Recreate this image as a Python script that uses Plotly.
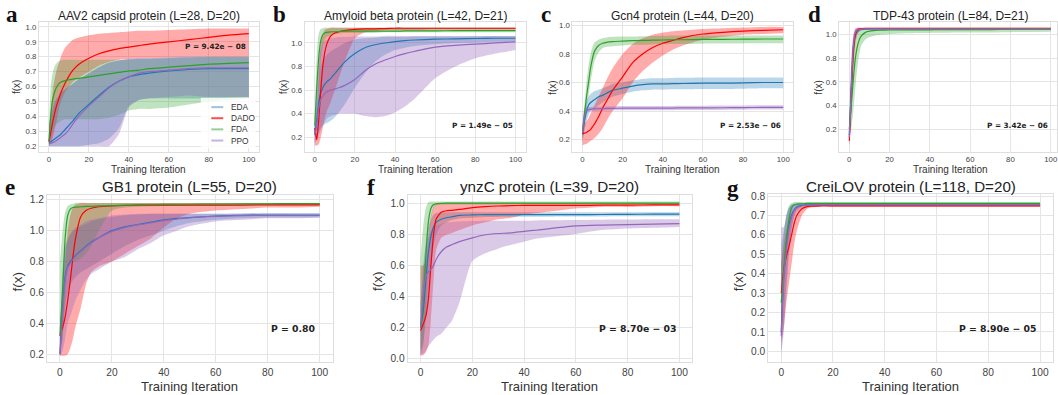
import plotly.graph_objects as go

W, H = 1058, 395

# Training iterations at which curves were read
X = [0, 1, 2, 3, 4, 5, 6, 8, 10, 12, 15, 20, 25, 30, 35, 40, 45, 50, 60, 70, 80, 90, 100]

# ---------------- panel a : AAV2 ----------------
A_EDA_MEAN = [.22, .23, .24, .25, .26, .27, .28, .31, .34, .37, .42, .48, .54, .595, .635, .665, .68, .69, .705, .715, .72, .72, .72]
A_EDA_LO = [.2, .2, .2, .2, .2, .2, .2, .2, .2, .2, .2, .21, .22, .25, .32, .47, .51, .52, .52, .52, .52, .525, .53]
A_EDA_HI = [.35, .42, .46, .5, .52, .54, .56, .58, .6, .62, .65, .69, .73, .76, .775, .785, .79, .79, .795, .8, .8, .8, .8]
A_DADO_MEAN = [.23, .3, .37, .43, .48, .52, .56, .62, .67, .71, .75, .79, .82, .84, .855, .865, .875, .885, .90, .915, .93, .945, .955]
A_DADO_LO = [.2, .22, .26, .32, .38, .45, .5, .56, .6, .63, .66, .7, .74, .765, .78, .785, .79, .79, .795, .8, .8, .8, .8]
A_DADO_HI = [.3, .45, .58, .66, .72, .76, .8, .86, .89, .915, .93, .945, .955, .96, .965, .97, .975, .975, .98, .985, .99, .99, .99]
A_FDA_MEAN = [.23, .42, .52, .57, .6, .62, .63, .64, .645, .65, .655, .665, .675, .685, .695, .705, .71, .72, .73, .74, .75, .755, .76]
A_FDA_LO = [.2, .25, .3, .33, .35, .36, .37, .38, .38, .38, .38, .38, .38, .39, .41, .44, .45, .45, .46, .48, .5, .51, .52]
A_FDA_HI = [.35, .62, .7, .74, .76, .77, .775, .78, .78, .78, .78, .78, .78, .78, .78, .78, .785, .785, .79, .795, .8, .8, .8]
A_PPO_MEAN = [.22, .22, .225, .23, .24, .25, .26, .28, .31, .35, .40, .47, .53, .59, .635, .665, .69, .70, .71, .72, .725, .725, .725]
A_PPO_LO = [.2, .2, .2, .2, .2, .2, .2, .2, .2, .2, .2, .2, .2, .2, .28, .46, .51, .52, .53, .54, .53, .53, .53]
A_PPO_HI = [.25, .38, .45, .5, .52, .54, .56, .58, .6, .62, .65, .69, .73, .76, .775, .785, .79, .79, .795, .8, .8, .8, .8]

# ---------------- panel b : Amyloid beta ----------------
B_EDA_MEAN = [.22, .35, .5, .58, .62, .65, .67, .70, .74, .78, .84, .91, .96, .985, 1.0, 1.012, 1.02, 1.025, 1.032, 1.035, 1.038, 1.04, 1.04]
B_EDA_LO = [.15, .2, .25, .28, .3, .31, .32, .34, .37, .41, .48, .62, .74, .84, .9, .94, .96, .975, .99, 1.0, 1.005, 1.01, 1.01]
B_EDA_HI = [.3, .5, .7, .8, .85, .88, .9, .93, .95, .97, 1.0, 1.03, 1.04, 1.045, 1.05, 1.05, 1.05, 1.055, 1.055, 1.055, 1.058, 1.06, 1.06]
B_DADO_MEAN = [.28, .18, .35, .6, .8, .92, .99, 1.06, 1.085, 1.095, 1.105, 1.115, 1.12, 1.12, 1.122, 1.125, 1.125, 1.125, 1.125, 1.125, 1.125, 1.125, 1.125]
B_DADO_LO = [.13, .13, .14, .2, .28, .36, .42, .5, .6, .7, .85, 1.04, 1.09, 1.1, 1.11, 1.11, 1.11, 1.11, 1.115, 1.115, 1.115, 1.115, 1.115]
B_DADO_HI = [.3, .3, .75, 1.0, 1.08, 1.11, 1.12, 1.13, 1.13, 1.13, 1.13, 1.13, 1.13, 1.13, 1.13, 1.13, 1.13, 1.13, 1.13, 1.13, 1.13, 1.13, 1.13]
B_FDA_MEAN = [.3, .62, .88, 1.02, 1.07, 1.085, 1.09, 1.095, 1.095, 1.097, 1.1, 1.1, 1.1, 1.1, 1.1, 1.1, 1.102, 1.102, 1.103, 1.104, 1.105, 1.105, 1.105]
B_FDA_LO = [.25, .35, .6, .85, .97, 1.03, 1.05, 1.07, 1.075, 1.08, 1.085, 1.085, 1.085, 1.085, 1.09, 1.09, 1.09, 1.09, 1.09, 1.09, 1.09, 1.09, 1.09]
B_FDA_HI = [.35, .9, 1.08, 1.12, 1.125, 1.13, 1.13, 1.13, 1.13, 1.13, 1.13, 1.13, 1.13, 1.13, 1.13, 1.13, 1.13, 1.13, 1.13, 1.13, 1.13, 1.13, 1.13]
B_PPO_MEAN = [.22, .3, .45, .52, .55, .57, .585, .6, .61, .62, .64, .69, .765, .82, .855, .885, .91, .93, .965, .98, .99, 1.0, 1.01]
B_PPO_LO = [.15, .18, .22, .26, .3, .33, .36, .38, .39, .4, .4, .4, .38, .37, .38, .41, .46, .53, .7, .8, .87, .91, .94]
B_PPO_HI = [.3, .6, .85, .95, 1.0, 1.02, 1.03, 1.04, 1.045, 1.05, 1.05, 1.055, 1.055, 1.055, 1.06, 1.06, 1.06, 1.06, 1.06, 1.06, 1.06, 1.06, 1.06]

# ---------------- panel c : Gcn4 ----------------
C_EDA_MEAN = [.24, .33, .4, .44, .46, .47, .48, .5, .51, .525, .545, .56, .575, .585, .59, .59, .592, .593, .595, .595, .597, .6, .6]
C_EDA_LO = [.18, .26, .33, .37, .4, .41, .42, .44, .46, .475, .5, .52, .535, .545, .55, .55, .552, .553, .555, .555, .557, .56, .56]
C_EDA_HI = [.3, .4, .47, .5, .52, .53, .54, .55, .56, .57, .59, .6, .615, .625, .63, .63, .632, .633, .635, .635, .635, .635, .635]
C_DADO_MEAN = [.24, .245, .25, .26, .27, .29, .31, .36, .42, .47, .545, .64, .74, .80, .845, .875, .895, .915, .94, .952, .96, .966, .97]
C_DADO_LO = [.16, .165, .17, .18, .19, .2, .21, .24, .28, .33, .4, .49, .6, .68, .74, .79, .83, .86, .9, .92, .935, .94, .945]
C_DADO_HI = [.3, .31, .33, .35, .38, .41, .44, .5, .56, .62, .7, .8, .87, .91, .935, .95, .96, .965, .975, .98, .985, .99, .99]
C_FDA_MEAN = [.25, .38, .5, .6, .7, .77, .82, .86, .875, .882, .887, .89, .893, .895, .897, .898, .9, .9, .902, .903, .904, .905, .905]
C_FDA_LO = [.2, .3, .42, .5, .6, .68, .75, .81, .84, .85, .855, .86, .865, .865, .867, .868, .87, .87, .872, .873, .874, .875, .875]
C_FDA_HI = [.3, .45, .6, .72, .8, .85, .88, .9, .91, .915, .92, .922, .923, .925, .927, .928, .93, .93, .93, .93, .93, .93, .93]
C_PPO_MEAN = [.25, .36, .40, .41, .412, .415, .415, .416, .417, .418, .419, .42, .42, .42, .42, .421, .421, .422, .422, .423, .424, .425, .425]
C_PPO_LO = [.18, .3, .37, .395, .398, .4, .4, .401, .402, .403, .404, .405, .405, .405, .405, .406, .406, .407, .407, .408, .409, .41, .41]
C_PPO_HI = [.32, .42, .43, .428, .428, .43, .43, .431, .432, .433, .434, .435, .435, .435, .435, .436, .436, .437, .437, .438, .439, .44, .44]

# ---------------- panel d : TDP-43 ----------------
D_EDA_MEAN = [.15, .55, .88, 1.0, 1.03, 1.04, 1.045, 1.048, 1.05, 1.05, 1.05, 1.05, 1.05, 1.05, 1.05, 1.05, 1.05, 1.05, 1.05, 1.05, 1.05, 1.05, 1.05]
D_EDA_LO = [.06, .35, .75, .95, 1.01, 1.025, 1.035, 1.04, 1.042, 1.043, 1.044, 1.045, 1.045, 1.045, 1.045, 1.045, 1.045, 1.045, 1.045, 1.045, 1.045, 1.045, 1.045]
D_EDA_HI = [.3, .75, .98, 1.04, 1.05, 1.055, 1.056, 1.057, 1.058, 1.058, 1.058, 1.058, 1.058, 1.058, 1.058, 1.058, 1.058, 1.058, 1.058, 1.058, 1.058, 1.058, 1.058]
D_DADO_MEAN = [.1, .5, .85, 1.0, 1.04, 1.05, 1.053, 1.055, 1.055, 1.055, 1.055, 1.055, 1.055, 1.055, 1.055, 1.055, 1.055, 1.055, 1.055, 1.055, 1.055, 1.055, 1.055]
D_DADO_LO = [.05, .3, .7, .92, 1.0, 1.03, 1.04, 1.045, 1.048, 1.05, 1.05, 1.05, 1.05, 1.05, 1.05, 1.05, 1.05, 1.05, 1.05, 1.05, 1.05, 1.05, 1.05]
D_DADO_HI = [.2, .7, .97, 1.05, 1.06, 1.06, 1.06, 1.06, 1.06, 1.06, 1.06, 1.06, 1.06, 1.06, 1.06, 1.06, 1.06, 1.06, 1.06, 1.06, 1.06, 1.06, 1.06]
D_FDA_MEAN = [.2, .4, .62, .8, .9, .96, .99, 1.02, 1.03, 1.035, 1.038, 1.04, 1.04, 1.041, 1.042, 1.042, 1.043, 1.043, 1.044, 1.044, 1.045, 1.045, 1.045]
D_FDA_LO = [.1, .2, .35, .55, .72, .84, .91, .96, .98, .99, 1.0, 1.005, 1.01, 1.012, 1.014, 1.015, 1.016, 1.017, 1.018, 1.02, 1.022, 1.024, 1.025]
D_FDA_HI = [.25, .65, .9, 1.0, 1.03, 1.04, 1.045, 1.05, 1.052, 1.055, 1.055, 1.055, 1.055, 1.055, 1.055, 1.055, 1.055, 1.055, 1.055, 1.055, 1.055, 1.055, 1.055]
D_PPO_MEAN = [.13, .55, .9, 1.02, 1.04, 1.045, 1.048, 1.05, 1.05, 1.05, 1.05, 1.05, 1.05, 1.05, 1.05, 1.05, 1.05, 1.05, 1.05, 1.05, 1.05, 1.05, 1.05]
D_PPO_LO = [.06, .3, .75, .97, 1.02, 1.035, 1.04, 1.042, 1.042, 1.042, 1.042, 1.042, 1.042, 1.042, 1.042, 1.042, 1.042, 1.042, 1.042, 1.042, 1.042, 1.042, 1.042]
D_PPO_HI = [.25, .8, 1.0, 1.05, 1.055, 1.058, 1.058, 1.058, 1.058, 1.058, 1.058, 1.058, 1.058, 1.058, 1.058, 1.058, 1.058, 1.058, 1.058, 1.058, 1.058, 1.058, 1.058]

# ---------------- panel e : GB1 ----------------
E_EDA_MEAN = [.2, .5, .7, .77, .8, .82, .84, .87, .9, .925, .955, 1.0, 1.025, 1.04, 1.055, 1.07, 1.08, 1.085, 1.095, 1.1, 1.1, 1.1, 1.1]
E_EDA_LO = [.19, .3, .5, .6, .65, .68, .7, .73, .75, .77, .8, .85, .9, .94, .97, 1.0, 1.03, 1.05, 1.07, 1.08, 1.085, 1.085, 1.085]
E_EDA_HI = [.3, .75, .9, .95, .98, 1.0, 1.01, 1.03, 1.045, 1.06, 1.075, 1.09, 1.1, 1.105, 1.11, 1.11, 1.11, 1.11, 1.11, 1.112, 1.115, 1.115, 1.115]
E_DADO_MEAN = [.32, .37, .44, .55, .68, .83, .95, 1.09, 1.13, 1.145, 1.155, 1.16, 1.163, 1.165, 1.165, 1.165, 1.165, 1.165, 1.165, 1.166, 1.167, 1.167, 1.167]
E_DADO_LO = [.19, .19, .19, .2, .24, .3, .38, .5, .65, .73, .77, .8, .85, .9, .95, 1.02, 1.08, 1.11, 1.13, 1.14, 1.15, 1.15, 1.155]
E_DADO_HI = [.4, .6, .8, 1.0, 1.1, 1.15, 1.17, 1.18, 1.18, 1.18, 1.18, 1.18, 1.18, 1.18, 1.18, 1.18, 1.18, 1.18, 1.18, 1.18, 1.18, 1.18, 1.18]
E_FDA_MEAN = [.32, .6, .95, 1.1, 1.14, 1.15, 1.153, 1.155, 1.157, 1.158, 1.16, 1.162, 1.165, 1.167, 1.168, 1.17, 1.17, 1.171, 1.172, 1.173, 1.174, 1.175, 1.175]
E_FDA_LO = [.2, .3, .55, .75, .8, .8, .8, .82, .85, .9, 1.0, 1.13, 1.15, 1.155, 1.158, 1.16, 1.16, 1.161, 1.162, 1.163, 1.164, 1.165, 1.165]
E_FDA_HI = [.8, 1.0, 1.12, 1.16, 1.17, 1.175, 1.18, 1.18, 1.18, 1.18, 1.18, 1.18, 1.18, 1.18, 1.18, 1.18, 1.18, 1.18, 1.18, 1.18, 1.18, 1.18, 1.18]
E_PPO_MEAN = [.2, .45, .68, .76, .79, .815, .835, .865, .895, .92, .955, .995, 1.02, 1.037, 1.05, 1.065, 1.075, 1.085, 1.093, 1.097, 1.1, 1.1, 1.1]
E_PPO_LO = [.19, .22, .3, .4, .45, .5, .55, .62, .68, .72, .75, .8, .83, .88, .92, .97, 1.0, 1.03, 1.06, 1.07, 1.08, 1.08, 1.085]
E_PPO_HI = [.3, .7, .88, .93, .97, 1.0, 1.02, 1.04, 1.06, 1.07, 1.08, 1.1, 1.105, 1.11, 1.11, 1.11, 1.11, 1.11, 1.11, 1.11, 1.11, 1.11, 1.11]

# ---------------- panel f : ynzC ----------------
F_EDA_MEAN = [.2, .3, .5, .68, .79, .85, .88, .9, .91, .915, .925, .928, .93, .93, .93, .93, .93, .93, .93, .931, .932, .933, .933]
F_EDA_LO = [.05, .1, .25, .45, .6, .72, .8, .86, .88, .895, .905, .91, .915, .915, .916, .916, .917, .917, .918, .918, .919, .92, .92]
F_EDA_HI = [.35, .55, .75, .85, .9, .93, .94, .945, .945, .945, .945, .945, .945, .945, .945, .945, .945, .945, .945, .945, .945, .945, .945]
F_DADO_MEAN = [.18, .22, .27, .38, .6, .8, .9, .945, .955, .958, .964, .975, .982, .986, .988, .99, .99, .99, .99, .991, .992, .993, .993]
F_DADO_LO = [.02, .02, .04, .08, .25, .5, .7, .78, .8, .81, .83, .86, .88, .9, .91, .93, .94, .95, .97, .98, .98, .985, .985]
F_DADO_HI = [.6, .6, .62, .75, .92, .98, 1.0, 1.005, 1.005, 1.005, 1.005, 1.005, 1.005, 1.005, 1.005, 1.005, 1.005, 1.005, 1.005, 1.005, 1.005, 1.005, 1.005]
F_FDA_MEAN = [.2, .35, .65, .88, .97, .995, 1.0, 1.003, 1.005, 1.005, 1.005, 1.005, 1.005, 1.005, 1.005, 1.005, 1.005, 1.005, 1.005, 1.005, 1.005, 1.005, 1.005]
F_FDA_LO = [.02, .08, .3, .7, .9, .97, .99, .995, .995, .995, .995, .995, .995, .995, .995, .995, .995, .995, .995, .995, .995, .995, .995]
F_FDA_HI = [.65, .85, .97, 1.01, 1.015, 1.015, 1.015, 1.015, 1.015, 1.015, 1.015, 1.015, 1.015, 1.015, 1.015, 1.015, 1.015, 1.015, 1.015, 1.015, 1.015, 1.015, 1.015]
F_PPO_MEAN = [.2, .4, .53, .56, .575, .6, .64, .69, .72, .735, .755, .78, .8, .808, .812, .822, .83, .84, .857, .862, .865, .868, .872]
F_PPO_LO = [.02, .03, .05, .08, .1, .12, .14, .16, .2, .24, .36, .63, .68, .71, .735, .755, .775, .785, .805, .83, .84, .845, .85]
F_PPO_HI = [.35, .6, .72, .78, .82, .84, .86, .87, .88, .882, .885, .888, .89, .89, .89, .89, .892, .893, .895, .897, .898, .9, .9]

# ---------------- panel g : CreiLOV ----------------
G_EDA_MEAN = [.1, .4, .55, .65, .7, .73, .745, .752, .755, .755, .755, .755, .755, .755, .755, .755, .755, .755, .755, .755, .755, .755, .755]
G_EDA_LO = [0, .15, .35, .52, .63, .7, .73, .745, .75, .75, .75, .75, .75, .75, .75, .75, .75, .75, .75, .75, .75, .75, .75]
G_EDA_HI = [.55, .62, .7, .74, .755, .76, .762, .762, .762, .762, .762, .762, .762, .762, .762, .762, .762, .762, .762, .762, .762, .762, .762]
G_DADO_MEAN = [.3, .42, .49, .54, .6, .66, .7, .735, .746, .748, .75, .75, .75, .75, .75, .75, .75, .75, .75, .75, .75, .75, .75]
G_DADO_LO = [.05, .12, .25, .35, .45, .55, .62, .7, .735, .742, .745, .745, .745, .745, .745, .745, .745, .745, .745, .745, .745, .745, .745]
G_DADO_HI = [.45, .55, .62, .67, .71, .735, .745, .752, .755, .755, .755, .755, .755, .755, .755, .755, .755, .755, .755, .755, .755, .755, .755]
G_FDA_MEAN = [.25, .42, .58, .68, .74, .755, .758, .76, .762, .762, .762, .762, .762, .762, .762, .762, .762, .762, .762, .762, .762, .762, .762]
G_FDA_LO = [.1, .3, .48, .62, .71, .745, .75, .755, .755, .755, .755, .755, .755, .755, .755, .755, .755, .755, .755, .755, .755, .755, .755]
G_FDA_HI = [.45, .6, .7, .75, .765, .77, .77, .77, .77, .77, .77, .77, .77, .77, .77, .77, .77, .77, .77, .77, .77, .77, .77]
G_PPO_MEAN = [.08, .38, .52, .63, .69, .725, .74, .75, .753, .755, .755, .755, .755, .755, .755, .755, .755, .755, .755, .755, .755, .755, .755]
G_PPO_LO = [-.02, .1, .3, .5, .62, .69, .72, .74, .745, .748, .748, .748, .748, .748, .748, .748, .748, .748, .748, .748, .748, .748, .748]
G_PPO_HI = [.64, .64, .7, .74, .755, .76, .765, .765, .765, .765, .765, .765, .765, .765, .765, .765, .765, .765, .765, .765, .765, .765, .765]

SERIES = ["EDA", "DADO", "FDA", "PPO"]
TITLES = ["AAV2 capsid protein (L=28, D=20)", "Amyloid beta protein (L=42, D=21)",
          "Gcn4 protein (L=44, D=20)", "TDP-43 protein (L=84, D=21)",
          "GB1 protein (L=55, D=20)", "ynzC protein (L=39, D=20)", "CreiLOV protein (L=118, D=20)"]
LETTERS = ["a", "b", "c", "d", "e", "f", "g"]
PVALUES = ["P = 9.42e \u2212 08", "P = 1.49e \u2212 05", "P = 2.53e \u2212 06", "P = 3.42e \u2212 06",
           "P = 0.80", "P = 8.70e \u2212 03", "P = 8.90e \u2212 05"]

DATA = {
    "a": {"EDA": (A_EDA_MEAN, A_EDA_LO, A_EDA_HI), "DADO": (A_DADO_MEAN, A_DADO_LO, A_DADO_HI),
          "FDA": (A_FDA_MEAN, A_FDA_LO, A_FDA_HI), "PPO": (A_PPO_MEAN, A_PPO_LO, A_PPO_HI)},
    "b": {"EDA": (B_EDA_MEAN, B_EDA_LO, B_EDA_HI), "DADO": (B_DADO_MEAN, B_DADO_LO, B_DADO_HI),
          "FDA": (B_FDA_MEAN, B_FDA_LO, B_FDA_HI), "PPO": (B_PPO_MEAN, B_PPO_LO, B_PPO_HI)},
    "c": {"EDA": (C_EDA_MEAN, C_EDA_LO, C_EDA_HI), "DADO": (C_DADO_MEAN, C_DADO_LO, C_DADO_HI),
          "FDA": (C_FDA_MEAN, C_FDA_LO, C_FDA_HI), "PPO": (C_PPO_MEAN, C_PPO_LO, C_PPO_HI)},
    "d": {"EDA": (D_EDA_MEAN, D_EDA_LO, D_EDA_HI), "DADO": (D_DADO_MEAN, D_DADO_LO, D_DADO_HI),
          "FDA": (D_FDA_MEAN, D_FDA_LO, D_FDA_HI), "PPO": (D_PPO_MEAN, D_PPO_LO, D_PPO_HI)},
    "e": {"EDA": (E_EDA_MEAN, E_EDA_LO, E_EDA_HI), "DADO": (E_DADO_MEAN, E_DADO_LO, E_DADO_HI),
          "FDA": (E_FDA_MEAN, E_FDA_LO, E_FDA_HI), "PPO": (E_PPO_MEAN, E_PPO_LO, E_PPO_HI)},
    "f": {"EDA": (F_EDA_MEAN, F_EDA_LO, F_EDA_HI), "DADO": (F_DADO_MEAN, F_DADO_LO, F_DADO_HI),
          "FDA": (F_FDA_MEAN, F_FDA_LO, F_FDA_HI), "PPO": (F_PPO_MEAN, F_PPO_LO, F_PPO_HI)},
    "g": {"EDA": (G_EDA_MEAN, G_EDA_LO, G_EDA_HI), "DADO": (G_DADO_MEAN, G_DADO_LO, G_DADO_HI),
          "FDA": (G_FDA_MEAN, G_FDA_LO, G_FDA_HI), "PPO": (G_PPO_MEAN, G_PPO_LO, G_PPO_HI)},
}

LINE_COLORS = {"EDA": "#1f77b4", "DADO": "#ff0000", "FDA": "#2ca02c", "PPO": "#9467bd"}
FILL_COLORS = {"EDA": "rgba(31,119,180,0.3)", "DADO": "rgba(255,0,0,0.33)",
               "FDA": "rgba(44,160,44,0.3)", "PPO": "rgba(148,103,189,0.35)"}
LEGEND_COLORS = {"EDA": "rgba(31,119,180,0.45)", "DADO": "rgba(255,0,0,0.7)",
                 "FDA": "rgba(44,160,44,0.5)", "PPO": "rgba(148,103,189,0.5)"}

# layout geometry in pixels: (x0, x1, y0_top, y1_bottom)
BOXES = [(39, 259, 19, 151), (305, 526, 19, 151), (573, 794, 19, 151), (840, 1058, 19, 151),
         (47, 333, 194, 364), (408, 693, 194, 364), (769, 1054, 193, 364)]
XRANGES = [[-5, 105], [-5, 105], [-5, 105], [-5, 103.1], [-5, 105], [-5, 105], [-5, 105]]
YRANGES = [[0.16, 1.035], [0.074, 1.18], [0.112, 1.026], [0.005, 1.11],
           [0.147, 1.234], [-0.026, 1.06], [-0.057, 0.813]]
YDTICK = [0.1, 0.2, 0.2, 0.2, 0.2, 0.2, 0.1]


def px(x):
    return x / W


def py(y):
    return 1 - y / H


fig = go.Figure()
layout = dict(width=W, height=H, autosize=False, margin=dict(l=0, r=0, t=0, b=0),
              paper_bgcolor="white", plot_bgcolor="white",
              font=dict(family="Liberation Sans", color="#333333"), showlegend=False)

annotations = []
shapes = []

for i, key in enumerate(LETTERS):
    n = "" if i == 0 else str(i + 1)
    xa, ya = "x" + n, "y" + n
    top = i < 4
    tick_size = 7.8 if top else 10.2
    x0, x1, yt, yb = BOXES[i]
    layout["xaxis" + n] = dict(domain=[px(x0), px(x1)], range=XRANGES[i], anchor=ya,
                               tickvals=[0, 20, 40, 60, 80, 100], showgrid=True, gridcolor="#e5e5e5",
                               gridwidth=1, zeroline=False, showline=True, mirror=True,
                               linecolor="#dedede", linewidth=1, ticks="",
                               tickfont=dict(size=tick_size, color="#444444"))
    layout["yaxis" + n] = dict(domain=[py(yb), py(yt)], range=YRANGES[i], anchor=xa,
                               dtick=YDTICK[i], tick0=0, tickformat=".1f", showgrid=True,
                               gridcolor="#e5e5e5", gridwidth=1, zeroline=False, showline=True,
                               mirror=True, linecolor="#dedede", linewidth=1, ticks="",
                               tickfont=dict(size=tick_size, color="#444444"))
    # shaded bands
    for s in SERIES:
        mean, lo, hi = DATA[key][s]
        fig.add_trace(go.Scatter(x=X, y=lo, xaxis=xa, yaxis=ya, mode="lines",
                                 line=dict(width=0, shape="spline", smoothing=0.6),
                                 hoverinfo="skip", showlegend=False))
        fig.add_trace(go.Scatter(x=X, y=hi, xaxis=xa, yaxis=ya, mode="lines", fill="tonexty",
                                 fillcolor=FILL_COLORS[s],
                                 line=dict(width=0, shape="spline", smoothing=0.6),
                                 hoverinfo="skip", showlegend=False))
    # mean lines
    for s in SERIES:
        mean, lo, hi = DATA[key][s]
        fig.add_trace(go.Scatter(x=X, y=mean, xaxis=xa, yaxis=ya, mode="lines", name=s,
                                 line=dict(color=LINE_COLORS[s], width=1.2, shape="spline",
                                           smoothing=0.6),
                                 showlegend=False))

    # text elements
    cx = (x0 + x1) / 2 if i != 3 else 951
    if top:
        annotations.append(dict(text=TITLES[i], x=px(cx), y=py(13.3), xref="paper", yref="paper",
                                showarrow=False, xanchor="center", yanchor="middle",
                                font=dict(size=12, color="#222222")))
        annotations.append(dict(text="Training Iteration", x=px(cx), y=py(169), xref="paper",
                                yref="paper", showarrow=False, xanchor="center", yanchor="middle",
                                font=dict(size=10, color="#333333")))
        annotations.append(dict(text="f(x)", x=px([16.7, 284, 553, 819][i]), y=py(85.5),
                                xref="paper", yref="paper", showarrow=False, textangle=-90,
                                xanchor="center", yanchor="middle",
                                font=dict(size=10, color="#333333")))
        annotations.append(dict(text="<b>" + PVALUES[i] + "</b>", x=px([248.5, 515.5, 783.5, 1050.5][i]),
                                y=py(124 if i else 44.3), xref="paper", yref="paper",
                                showarrow=False, xanchor="right", yanchor="middle",
                                font=dict(size=7.3, family="DejaVu Sans", color="#222222")))
        annotations.append(dict(text="<b>" + key + "</b>", x=px([12, 279.5, 546.5, 815][i]), y=py(12),
                                xref="paper", yref="paper", showarrow=False, xanchor="center",
                                yanchor="middle",
                                font=dict(size=23, family="Liberation Serif", color="#111111")))
    else:
        annotations.append(dict(text=TITLES[i], x=px(cx), y=py(186), xref="paper", yref="paper",
                                showarrow=False, xanchor="center", yanchor="middle",
                                font=dict(size=15.2, color="#222222")))
        annotations.append(dict(text="Training Iteration", x=px(cx), y=py(388), xref="paper",
                                yref="paper", showarrow=False, xanchor="center", yanchor="middle",
                                font=dict(size=13, color="#333333")))
        annotations.append(dict(text="f(x)", x=px([17.5, 378.5, 740][i - 4]), y=py(281.5),
                                xref="paper", yref="paper", showarrow=False, textangle=-90,
                                xanchor="center", yanchor="middle",
                                font=dict(size=13.5, color="#333333")))
        annotations.append(dict(text="<b>" + PVALUES[i] + "</b>", x=px([318, 679.5, 1040][i - 4]),
                                y=py(330), xref="paper", yref="paper", showarrow=False,
                                xanchor="right", yanchor="middle",
                                font=dict(size=9.3, family="DejaVu Sans", color="#222222")))
        annotations.append(dict(text="<b>" + key + "</b>", x=px([10.5, 371, 733.5][i - 4]),
                                y=py(187 if key != "g" else 188), xref="paper", yref="paper",
                                showarrow=False, xanchor="center", yanchor="middle",
                                font=dict(size=23, family="Liberation Serif", color="#111111")))

# legend of panel a (drawn as a small inset box)
shapes.append(dict(type="rect", xref="paper", yref="paper", x0=px(201), x1=px(256), y0=py(147),
                   y1=py(96), fillcolor="rgba(255,255,255,0.8)", line=dict(width=0), layer="above"))
LEG_Y = [105.5, 116.7, 128, 139.3]
for s, ly in zip(SERIES, LEG_Y):
    shapes.append(dict(type="line", xref="paper", yref="paper", x0=px(211.5), x1=px(223.5),
                       y0=py(ly), y1=py(ly), line=dict(color=LEGEND_COLORS[s], width=2),
                       layer="above"))
    annotations.append(dict(text=s, x=px(229), y=py(ly), xref="paper", yref="paper",
                            showarrow=False, xanchor="left", yanchor="middle",
                            font=dict(size=8.3, color="#333333")))

layout["annotations"] = annotations
layout["shapes"] = shapes
fig.update_layout(**layout)
fig.write_html("out.html", config={"displayModeBar": False},
               post_script="document.body.style.margin='0px';document.body.style.overflow='hidden';")
